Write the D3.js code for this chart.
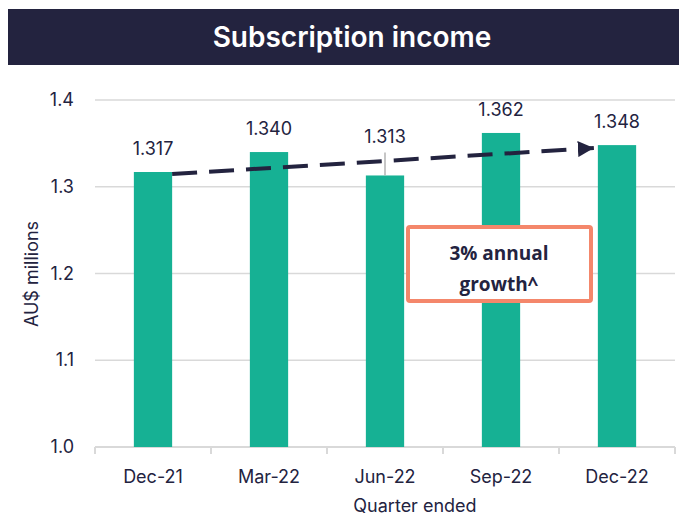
<!DOCTYPE html>
<html>
<head>
<meta charset="utf-8">
<script src="https://cdn.jsdelivr.net/npm/d3@7"></script>
<style>
  html, body { margin: 0; padding: 0; background: #ffffff; }
  svg { display: block; }
</style>
</head>
<body>
<svg id="chart" width="679" height="516"></svg>
<script>
const categories = ["Dec-21", "Mar-22", "Jun-22", "Sep-22", "Dec-22"];
const values = [1.317, 1.340, 1.313, 1.362, 1.348];
const valueLabels = ["1.317", "1.340", "1.313", "1.362", "1.348"];
const yTicks = [1.0, 1.1, 1.2, 1.3, 1.4];
const titleText = "Subscription income";
const yTitle = "AU$ millions";
const xTitle = "Quarter ended";
const annotationLines = ["3% annual", "growth^"];

const navy = "#23233f";
const teal = "#16b194";
const grid = "#d9d9d9";
const salmon = "#f4876b";

const svg = d3.select("#chart");

// title bar
svg.append("rect").attr("x", 8).attr("y", 9).attr("width", 671).attr("height", 56).attr("fill", navy);
svg.append("text").attr("x", 352).attr("y", 47).attr("text-anchor", "middle")
  .attr("font-family", "Inter, Lato, sans-serif").attr("font-weight", 600)
  .attr("font-size", 28).attr("fill", "#ffffff").text(titleText);

const x = d3.scaleBand().domain(categories).range([95, 675]).paddingInner(0.67).paddingOuter(0.335);
const y = d3.scaleLinear().domain([1.0, 1.4]).range([447, 100]);

const font = "Inter, 'Noto Sans', sans-serif";
const fs = 18;

// gridlines
svg.append("g").selectAll("line").data(yTicks.filter(d => d > 1.0)).join("line")
  .attr("x1", 95).attr("x2", 675).attr("y1", d => y(d)).attr("y2", d => y(d))
  .attr("stroke", grid).attr("stroke-width", 1.5);

// y tick labels
svg.append("g").selectAll("text").data(yTicks).join("text")
  .attr("x", 74).attr("y", d => y(d) + 6).attr("text-anchor", "end")
  .attr("font-family", font).attr("font-size", fs).attr("fill", navy)
  .text(d => d.toFixed(1));

// x axis
const xAxis = d3.axisBottom(x).tickSize(0).tickFormat(() => "");
const gx = svg.append("g").attr("transform", `translate(0,${y(1.0)})`).call(xAxis);
gx.select(".domain").attr("stroke", grid).attr("stroke-width", 2).attr("d", "M95,0H675");
const step = x.step();
const boundaries = d3.range(categories.length + 1).map(i => 95 + i * step);
svg.append("g").selectAll("line").data(boundaries).join("line")
  .attr("x1", d => d).attr("x2", d => d).attr("y1", y(1.0)).attr("y2", y(1.0) + 7)
  .attr("stroke", grid).attr("stroke-width", 2);

svg.append("g").selectAll("text").data(categories).join("text")
  .attr("x", d => x(d) + x.bandwidth() / 2).attr("y", 483).attr("text-anchor", "middle")
  .attr("font-family", font).attr("font-size", fs).attr("fill", navy).text(d => d);

// bars
svg.append("g").selectAll("rect").data(values).join("rect")
  .attr("x", (d, i) => x(categories[i])).attr("width", x.bandwidth())
  .attr("y", d => y(d)).attr("height", d => y(1.0) - y(d)).attr("fill", teal);

// leader line for Jun-22
const jIdx = 2;
svg.append("line")
  .attr("x1", x(categories[jIdx]) + x.bandwidth() / 2).attr("x2", x(categories[jIdx]) + x.bandwidth() / 2)
  .attr("y1", y(values[jIdx]) - 23).attr("y2", y(values[jIdx]))
  .attr("stroke", "#b3b3b3").attr("stroke-width", 1.5);

// value labels
svg.append("g").selectAll("text").data(values).join("text")
  .attr("x", (d, i) => x(categories[i]) + x.bandwidth() / 2)
  .attr("y", (d, i) => y(d) - (i === jIdx ? 32 : 17)).attr("text-anchor", "middle")
  .attr("font-family", font).attr("font-size", fs).attr("fill", navy).text((d, i) => valueLabels[i]);

// dashed trend arrow
const x0 = x(categories[0]) + x.bandwidth();
const y0 = y(values[0]) + 2;
const last = values.length - 1;
const x1 = x(categories[last]) - 4;
const y1 = y(values[last]) + 3;
const defs = svg.append("defs");
defs.append("marker").attr("id", "arrow").attr("viewBox", "0 0 10 10").attr("refX", 10).attr("refY", 5)
  .attr("markerWidth", 4).attr("markerHeight", 4).attr("markerUnits", "strokeWidth").attr("orient", "auto")
  .append("path").attr("d", "M0,0L10,5L0,10Z").attr("fill", navy);
svg.append("line").attr("x1", x0).attr("y1", y0).attr("x2", x1).attr("y2", y1)
  .attr("stroke", navy).attr("stroke-width", 4).attr("stroke-dasharray", "25,12")
  .attr("marker-end", "url(#arrow)");

// annotation box
svg.append("rect").attr("x", 408).attr("y", 227).attr("width", 183).attr("height", 74)
  .attr("fill", "#ffffff").attr("stroke", salmon).attr("stroke-width", 4).attr("rx", 2);
svg.append("g").selectAll("text").data(annotationLines).join("text")
  .attr("x", 499).attr("y", (d, i) => 260 + i * 31).attr("text-anchor", "middle")
  .attr("font-family", "'Open Sans', sans-serif").attr("font-weight", "bold")
  .attr("font-size", 19).attr("fill", navy).text(d => d);

// axis titles
svg.append("text").attr("transform", "translate(38,274) rotate(-90)").attr("text-anchor", "middle")
  .attr("font-family", font).attr("font-size", fs).attr("fill", navy).text(yTitle);
svg.append("text").attr("x", 415).attr("y", 512).attr("text-anchor", "middle")
  .attr("font-family", font).attr("font-size", fs).attr("fill", navy).text(xTitle);
</script>
</body>
</html>
